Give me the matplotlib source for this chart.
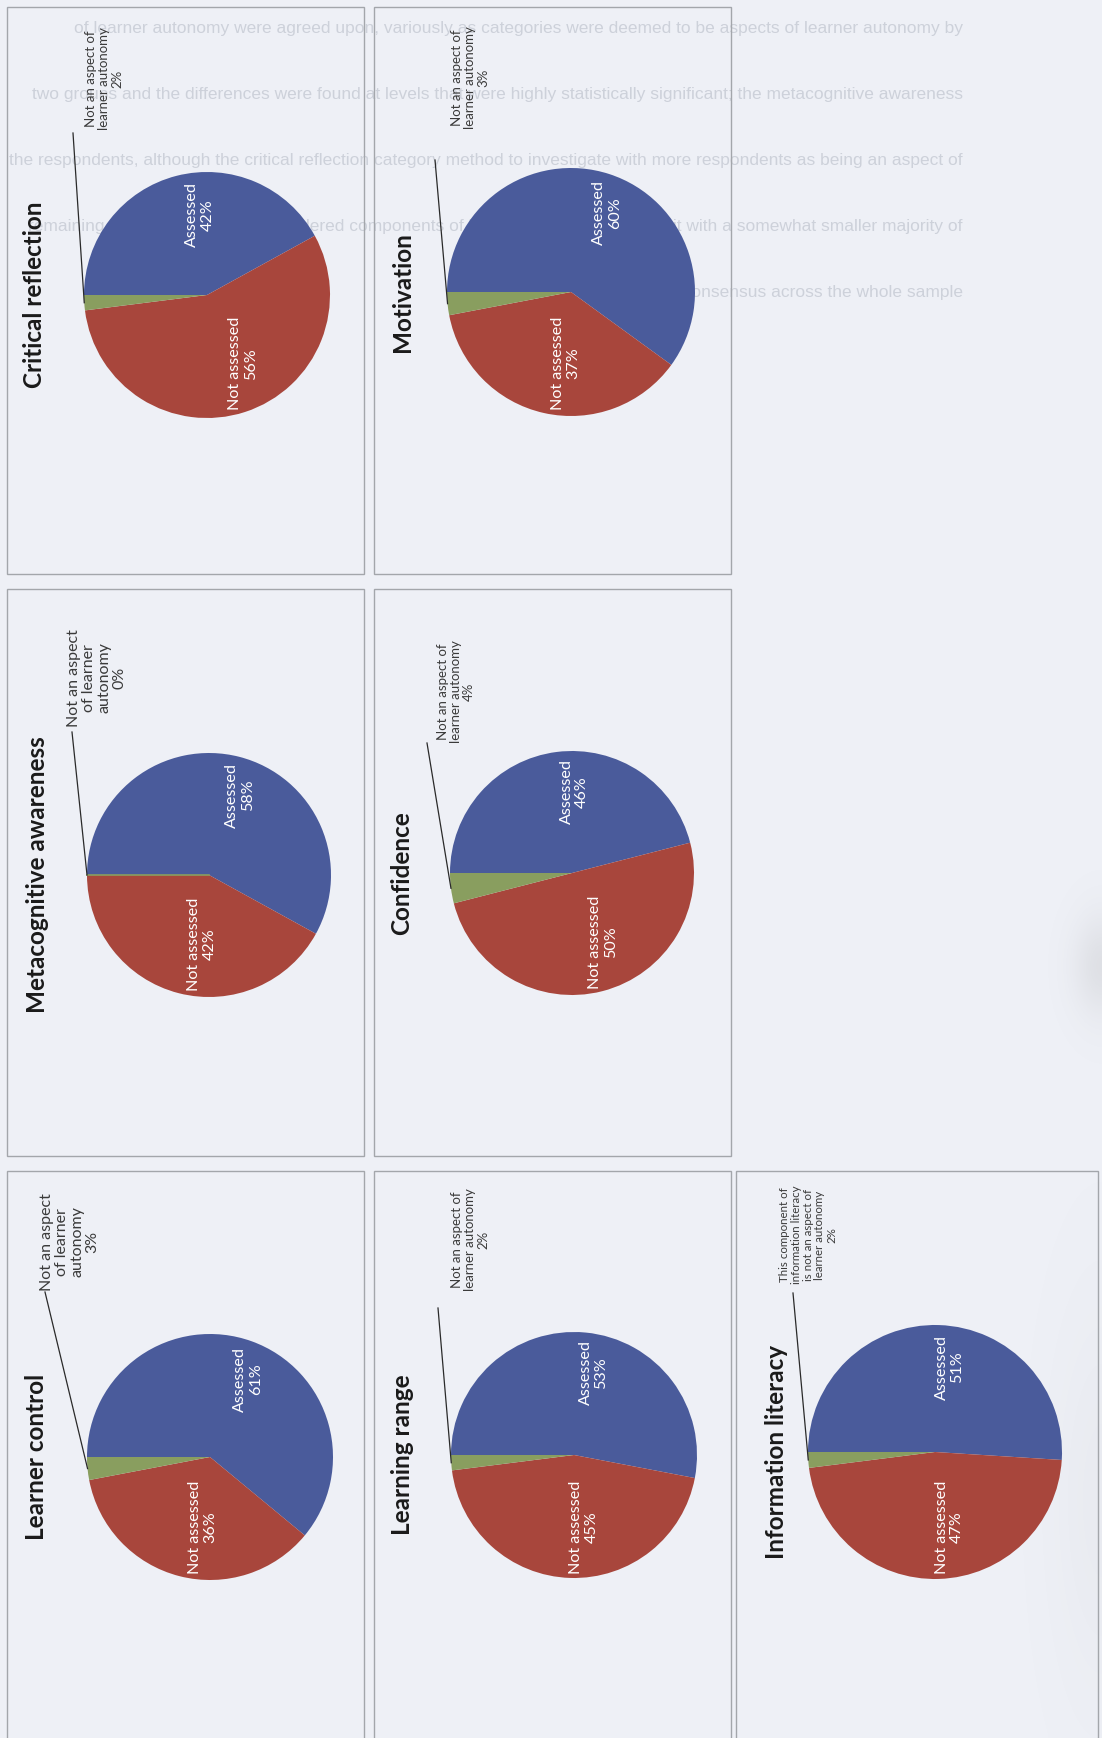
import matplotlib
matplotlib.use("Agg")
import matplotlib.pyplot as plt
from matplotlib.patches import Rectangle
import numpy as np

W, H = 1102, 1738

# Share of responses for each aspect of learner autonomy
titles = ["Critical reflection", "Motivation", "Metacognitive awareness", "Confidence",
          "Learner control", "Learning range", "Information literacy"]
assessed = [42, 60, 58, 46, 61, 53, 51]
not_assessed = [56, 37, 42, 50, 36, 45, 47]
not_aspect = [2, 3, 0, 4, 3, 2, 2]
slice_names = ["Assessed", "Not assessed"]
aspect_labels = [
    "Not an aspect of\nlearner autonomy",
    "Not an aspect of\nlearner autonomy",
    "Not an aspect\nof learner\nautonomy",
    "Not an aspect of\nlearner autonomy",
    "Not an aspect\nof learner\nautonomy",
    "Not an aspect of\nlearner autonomy",
    "This component of\ninformation literacy\nis not an aspect of\nlearner autonomy",
]

# faint text showing through from the back of the sheet
backside_lines = [
    "although most of the components of learner autonomy were agreed upon, variously as categories were deemed to be aspects of learner autonomy by",
    "respondents in the two groups and the differences were found at levels that were highly statistically significant; the metacognitive awareness",
    "was also seen by the respondents, although the critical reflection category method to investigate with more respondents as being an aspect of",
    "the remaining categories were all considered components of learner autonomy, leaving it with a somewhat smaller majority of",
    "autonomy consensus across the whole sample",
]

colors = ["#4a5b9b", "#a8463c", "#899e5f"]

# pixel layout: pie centre, radius, title x, callout centre, callout size, leader start
layout = [
    dict(c=(207, 295), r=123, tx=35, lab=(104, 79), fs=9.5, lead=(73, 133)),
    dict(c=(571, 292), r=124, tx=403, lab=(470, 78), fs=9.5, lead=(435, 160)),
    dict(c=(209, 875), r=122, tx=38, lab=(97, 678), fs=11.5, lead=(72, 732)),
    dict(c=(572, 873), r=122, tx=402, lab=(456, 692), fs=9.5, lead=(427, 743)),
    dict(c=(210, 1457), r=123, tx=37, lab=(70, 1242), fs=11.5, lead=(45, 1292)),
    dict(c=(574, 1455), r=123, tx=403, lab=(470, 1240), fs=9.5, lead=(438, 1308)),
    dict(c=(935, 1452), r=127, tx=777, lab=(808, 1235), fs=8.3, lead=(793, 1293)),
]
backside_left = [6, 6, 6, 6, 394]
label_shift = (12, 5)

panel_cols = [(7, 364), (374, 731), (736, 1098)]
panel_rows = [(7, 574), (589, 1156), (1171, 1760)]
panels = [(0, 0), (0, 1), (1, 0), (1, 1), (2, 0), (2, 1), (2, 2)]

plt.rcParams['font.family'] = ['Lato', 'DejaVu Sans']

bg = "#eef0f6"
fig = plt.figure(figsize=(W / 100, H / 100), dpi=100, facecolor=bg)
ax = fig.add_axes([0, 0, 1, 1])
ax.set_xlim(0, W)
ax.set_ylim(0, H)
ax.set_facecolor(bg)
ax.axis("off")
renderer = fig.canvas.get_renderer()


def fy(y):
    # image rows run downwards, axes y runs upwards
    return H - y


# soft grey shading along the right edge of the sheet
gx, gy = np.meshgrid(np.arange(0, W, 4), np.arange(0, H, 4))
shade = (np.exp(-((gx - 1102) / 28.0) ** 2 - ((gy - 965) / 50.0) ** 2) * 0.16
         + np.exp(-((gx - 1102) / 50.0) ** 2 - ((gy - 1500) / 200.0) ** 2) * 0.05)
rgba = np.zeros(gx.shape + (4,))
rgba[..., :3] = 0.55
rgba[..., 3] = shade
ax.imshow(rgba, extent=(0, W, 0, H), origin="upper", zorder=0.5,
          interpolation="bilinear", aspect="auto")

# right-aligned lines, dropping leading words until each fits the page
for i, line in enumerate(backside_lines):
    words = line.split()
    t = ax.text(963, fy(29 + 66 * i), line, ha="right", va="center", fontsize=12.5,
                family="Liberation Sans", color="#cdd1da", zorder=0)
    while len(words) > 1:
        bb = t.get_window_extent(renderer)
        if bb.x0 >= backside_left[i]:
            break
        words = words[1:]
        t.set_text(" ".join(words))

for row, col in panels:
    x0, x1 = panel_cols[col]
    y0, y1 = panel_rows[row]
    ax.add_patch(Rectangle((x0, fy(y1)), x1 - x0, y1 - y0, fill=False,
                           edgecolor="#a3a6ab", lw=1.0, zorder=1))

for i, title in enumerate(titles):
    lay = layout[i]
    cx, cy = lay["c"][0], fy(lay["c"][1])
    r = lay["r"]
    vals = [assessed[i], not_assessed[i], not_aspect[i]]
    wedges, _ = ax.pie(vals, colors=colors, startangle=180, counterclock=False,
                       center=(cx, cy), radius=r, frame=True)
    for w in wedges:
        w.set_zorder(2)
    if vals[2] == 0:
        # empty slice still shows as a thin green edge
        ax.plot([cx - r, cx], [cy, cy], color=colors[2], lw=1.2, zorder=2.5)

    # white value labels inside the two large slices
    for k in range(2):
        w = wedges[k]
        th = np.deg2rad((w.theta1 + w.theta2) / 2)
        px = cx + 0.63 * r * np.cos(th) + label_shift[0]
        py = cy + 0.63 * r * np.sin(th) + label_shift[1]
        ax.text(px, py, f"{slice_names[k]}\n{vals[k]}%", color="white", fontsize=11.6,
                rotation=90, ha="center", va="center", multialignment="center",
                linespacing=1.15, zorder=3)

    # callout for the small slice
    g = wedges[2]
    thg = np.deg2rad((g.theta1 + g.theta2) / 2)
    ex, ey = cx + r * np.cos(thg), cy + r * np.sin(thg)
    lx, ly = lay["lead"][0], fy(lay["lead"][1])
    ax.plot([lx, ex], [ly, ey], color="#2a2a2a", lw=0.9, zorder=3)
    ax.text(lay["lab"][0], fy(lay["lab"][1]), f"{aspect_labels[i]}\n{vals[2]}%",
            color="#3a3a3a", fontsize=lay["fs"], rotation=90, ha="center", va="center",
            multialignment="center", linespacing=1.1, zorder=3)

    ax.text(lay["tx"], cy, title, fontsize=17.5, fontweight="bold", color="#1a1a1a",
            rotation=90, ha="center", va="center", zorder=3)

ax.set_xlim(0, W)
ax.set_ylim(0, H)
ax.set_aspect("auto")
fig.savefig("out.png", dpi=100, facecolor=fig.get_facecolor())
